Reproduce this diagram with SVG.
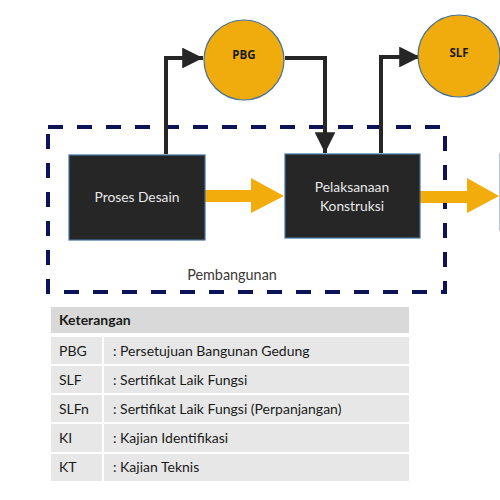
<svg xmlns="http://www.w3.org/2000/svg" width="500" height="500" viewBox="0 0 500 500">
<style>
  .box{fill:#262626;stroke:#41719c;stroke-width:1.2}
  .boxtxt{font-family:Lato,"Open Sans",sans-serif;font-size:13.8px;fill:#e8e8e8;text-anchor:middle}
  .circ{fill:#f0ab0c;stroke:#41719c;stroke-width:1.2}
  .ctxt{font-family:"Open Sans",Lato,sans-serif;font-size:11.5px;font-weight:bold;fill:#1a1a1a;text-anchor:middle}
  .conn{fill:none;stroke:#262626;stroke-width:4}
  .flow{fill:#f2ac0c}
  .dash{fill:none;stroke:#0c1457;stroke-width:4;stroke-dasharray:15 14}
  .hdr{fill:#d9d9d9}
  .row{fill:#e7e7e7}
  .ltxt{font-family:Lato,"Open Sans",sans-serif;font-size:14px;fill:#1a1a1a}
</style>
<defs>
  <marker id="ah" viewBox="0 0 10 10" refX="10" refY="5" markerWidth="5.2" markerHeight="5.2" markerUnits="strokeWidth" orient="auto">
    <path d="M0,0 L10,5 L0,10 z" fill="#262626"/>
  </marker>
</defs>

<rect x="48" y="127" width="397" height="165" class="dash"/>
<text x="232" y="280" style="font-family:Lato,'Open Sans',sans-serif;font-size:14.4px;fill:#3b3838;text-anchor:middle">Pembangunan</text>

<g id="connectors">
  <path class="conn" d="M166,154 V58 H203" marker-end="url(#ah)"/>
  <path class="conn" d="M285,58 H325 V153" marker-end="url(#ah)"/>
  <path class="conn" d="M381,153 V57 H420" marker-end="url(#ah)"/>
  <path class="flow" d="M205,190 H251 V178 L284,196 L251,213 V202 H205 z"/>
  <path class="flow" d="M420,191 H467 V178 L499,196 L467,213 V203 H420 z"/>
</g>

<g id="pbg">
  <circle class="circ" cx="244" cy="60" r="40"/>
  <text class="ctxt" x="244" y="59">PBG</text>
</g>
<g id="slf">
  <circle class="circ" cx="459" cy="56" r="41"/>
  <text class="ctxt" x="459" y="57">SLF</text>
</g>

<g id="proses-desain">
  <rect class="box" x="69" y="155" width="136" height="85"/>
  <text class="boxtxt" x="137" y="202">Proses Desain</text>
</g>
<g id="pelaksanaan-konstruksi">
  <rect class="box" x="285" y="154" width="135" height="84"/>
  <text class="boxtxt" x="352" y="192">Pelaksanaan</text>
  <text class="boxtxt" x="352" y="211">Konstruksi</text>
</g>
<g id="next-box">
  <line x1="499.5" y1="153" x2="499.5" y2="231" stroke="#b9c5d8" stroke-width="1.2"/>
</g>

<g id="legend">
  <rect class="hdr" x="51" y="307" width="358" height="26"/>
  <text class="ltxt" x="59" y="325" font-weight="bold">Keterangan</text>
  <rect class="row" x="51" y="337" width="51" height="27"/>
  <rect class="row" x="104" y="337" width="305" height="27"/>
  <rect class="row" x="51" y="366" width="51" height="27"/>
  <rect class="row" x="104" y="366" width="305" height="27"/>
  <rect class="row" x="51" y="395" width="51" height="27"/>
  <rect class="row" x="104" y="395" width="305" height="27"/>
  <rect class="row" x="51" y="424" width="51" height="28"/>
  <rect class="row" x="104" y="424" width="305" height="28"/>
  <rect class="row" x="51" y="454" width="51" height="27"/>
  <rect class="row" x="104" y="454" width="305" height="27"/>
  <text class="ltxt" x="59" y="356">PBG</text>
  <text class="ltxt" x="113" y="356">: Persetujuan Bangunan Gedung</text>
  <text class="ltxt" x="59" y="385">SLF</text>
  <text class="ltxt" x="113" y="385">: Sertifikat Laik Fungsi</text>
  <text class="ltxt" x="59" y="414">SLFn</text>
  <text class="ltxt" x="113" y="414">: Sertifikat Laik Fungsi (Perpanjangan)</text>
  <text class="ltxt" x="59" y="443">KI</text>
  <text class="ltxt" x="113" y="443">: Kajian Identifikasi</text>
  <text class="ltxt" x="59" y="472">KT</text>
  <text class="ltxt" x="113" y="472">: Kajian Teknis</text>
</g>
</svg>
